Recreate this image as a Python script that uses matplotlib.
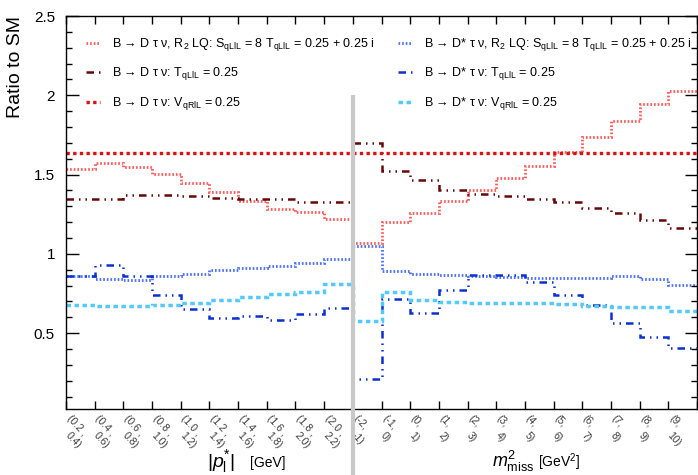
import numpy as np
import matplotlib
matplotlib.use('Agg')
import matplotlib.pyplot as plt

plt.rcParams['font.family'] = ['Liberation Sans', 'DejaVu Sans']
plt.rcParams['mathtext.fontset'] = 'custom'
plt.rcParams['mathtext.rm'] = 'Liberation Sans'
plt.rcParams['mathtext.it'] = 'Liberation Sans:italic'

# bin labels: |p_l*| bins then m2_miss bins
P_LO = ['0.2', '0.4', '0.6', '0.8', '1.0', '1.2', '1.4', '1.6', '1.8', '2.0']
P_HI = ['0.4', '0.6', '0.8', '1.0', '1.2', '1.4', '1.6', '1.8', '2.0', '2.2']
M_LO = ['-2', '-1', '0', '1', '2', '3', '4', '5', '6', '7', '8', '9']
M_HI = ['-1', '0', '1', '2', '3', '4', '5', '6', '7', '8', '9', '10']

# ratios to SM, 10 p bins + 12 m2 bins
D_LQ = [1.536, 1.571, 1.55, 1.504, 1.445, 1.389, 1.336, 1.284, 1.263, 1.221,
        1.07, 1.204, 1.261, 1.334, 1.404, 1.477, 1.552, 1.645, 1.739, 1.838, 1.948, 2.024]
D_T = [1.343, 1.343, 1.374, 1.374, 1.362, 1.353, 1.343, 1.345, 1.326, 1.326,
       1.697, 1.521, 1.467, 1.406, 1.376, 1.364, 1.345, 1.33, 1.292, 1.255, 1.213, 1.165]
D_V = [1.635, 1.635, 1.635, 1.635, 1.635, 1.635, 1.635, 1.635, 1.635, 1.635,
       1.635, 1.635, 1.635, 1.635, 1.635, 1.635, 1.635, 1.635, 1.635, 1.635, 1.635, 1.635]
DST_LQ = [0.858, 0.842, 0.838, 0.858, 0.871, 0.896, 0.913, 0.926, 0.942, 0.97,
          1.047, 0.892, 0.873, 0.869, 0.863, 0.854, 0.851, 0.851, 0.851, 0.858, 0.844, 0.802]
DST_T = [0.858, 0.932, 0.858, 0.739, 0.653, 0.596, 0.607, 0.582, 0.624, 0.659,
         0.211, 0.718, 0.63, 0.77, 0.869, 0.869, 0.823, 0.739, 0.68, 0.567, 0.473, 0.406]
DST_V = [0.68, 0.672, 0.672, 0.68, 0.693, 0.708, 0.726, 0.745, 0.762, 0.812,
         0.575, 0.758, 0.712, 0.699, 0.691, 0.691, 0.691, 0.682, 0.672, 0.666, 0.664, 0.638]

LBL_D_LQ = r'B → D τ ν, R$_2$ LQ: S$_{\mathrm{qLlL}}$ = 8 T$_{\mathrm{qLlL}}$ = 0.25 + 0.25 i'
LBL_D_T = r'B → D τ ν: T$_{\mathrm{qLlL}}$ = 0.25'
LBL_D_V = r'B → D τ ν: V$_{\mathrm{qRlL}}$ = 0.25'
LBL_DST_LQ = r'B → D* τ ν, R$_2$ LQ: S$_{\mathrm{qLlL}}$ = 8 T$_{\mathrm{qLlL}}$ = 0.25 + 0.25 i'
LBL_DST_T = r'B → D* τ ν: T$_{\mathrm{qLlL}}$ = 0.25'
LBL_DST_V = r'B → D* τ ν: V$_{\mathrm{qRlL}}$ = 0.25'

W, H = 698, 475

def main():
    fig = plt.figure(figsize=(W / 100, H / 100), dpi=100, facecolor='w')
    ax = fig.add_axes([66 / W, (H - 409) / H, (697 - 66) / W, (409 - 16) / H])

    nbins = len(P_LO) + len(M_LO)
    edges = np.arange(nbins + 1)
    dashdotdot = (0, (3, 2, 0.6, 2, 0.6, 2))
    dotted = (0, (0.6, 0.7))

    hd1 = ax.stairs(D_LQ, edges, baseline=None, color='#ff5a5a', lw=2.0,
                    linestyle=dotted, label=LBL_D_LQ)
    hd2 = ax.stairs(D_T, edges, baseline=None, color='#660606', lw=1.8,
                    linestyle=dashdotdot, label=LBL_D_T)
    hd3 = ax.stairs(D_V, edges, baseline=None, color='#dd1010', lw=2.4,
                    linestyle=(0, (1, 1)), label=LBL_D_V)
    hs1 = ax.stairs(DST_LQ, edges, baseline=None, color='#4a6eff', lw=2.0,
                    linestyle=dotted, label=LBL_DST_LQ)
    hs2 = ax.stairs(DST_T, edges, baseline=None, color='#0a30d0', lw=1.8,
                    linestyle=dashdotdot, label=LBL_DST_T)
    hs3 = ax.stairs(DST_V, edges, baseline=None, color='#55c8ff', lw=2.5,
                    linestyle=(0, (1.3, 1)), label=LBL_DST_V)

    # separator between the two variables
    ax.plot([len(P_LO), len(P_LO)], [2.0, -0.5], color='#c8c8c8', lw=3,
            clip_on=False, zorder=5, solid_capstyle='butt')

    ax.set_xlim(0, nbins)
    ax.set_ylim(0.022, 2.5)
    ax.set_yticks([0.5, 1.0, 1.5, 2.0, 2.5])
    ax.set_yticklabels(['0.5', '1', '1.5', '2', '2.5'])
    ax.set_yticks(np.arange(0.1, 2.5, 0.1), minor=True)
    ax.set_xticks(edges)
    ax.set_xticklabels([])
    ax.tick_params(axis='y', which='major', direction='in', length=9, width=1,
                   right=True, labelsize=11, pad=8)
    ax.tick_params(axis='y', which='minor', direction='in', length=4.5, width=1, right=True)
    ax.tick_params(axis='x', which='major', direction='in', length=6, width=1, top=True)
    for sp in ax.spines.values():
        sp.set_linewidth(1)
    ax.set_ylabel('Ratio to SM', fontsize=14, loc='top', labelpad=7)

    # two-line rotated bin labels
    lows = P_LO + M_LO
    highs = P_HI + M_HI
    for i in range(nbins):
        sep = ' ,' if i < len(P_LO) else ','
        ax.annotate('(' + lows[i] + sep, xy=(i + 0.5, 0), xycoords=('data', 'axes fraction'),
                    xytext=(-6.0, -3.0), textcoords='offset points', ha='left', va='top',
                    rotation=-48, rotation_mode='anchor', fontsize=7.5, color='#3a3a3a')
        ax.annotate(highs[i] + ')', xy=(i + 0.5, 0), xycoords=('data', 'axes fraction'),
                    xytext=(-7.0, -15.5), textcoords='offset points', ha='left', va='top',
                    rotation=-48, rotation_mode='anchor', fontsize=7.5, color='#3a3a3a')

    fig.text(207 / W, 1 - 467 / H, r'$|p^{*}_{\mathrm{l}}|$', fontsize=14, va='baseline')
    fig.text(250 / W, 1 - 467 / H, '[GeV]', fontsize=10, va='baseline')
    fig.text(492 / W, 1 - 467 / H, r'$m^{2}_{\mathrm{miss}}$', fontsize=13, va='baseline')
    fig.text(538 / W, 1 - 467 / H, r'[GeV$^{2}$]', fontsize=10, va='baseline')

    fig.legend(handles=[hd1, hd2, hd3], loc='upper left', frameon=False,
               bbox_to_anchor=(86 / W, 1 - 36 / H), fontsize=9, handlelength=1.1,
               handletextpad=1.0, labelspacing=1.0, borderpad=0, borderaxespad=0)
    fig.legend(handles=[hs1, hs2, hs3], loc='upper left', frameon=False,
               bbox_to_anchor=(398 / W, 1 - 36 / H), fontsize=9, handlelength=1.1,
               handletextpad=1.0, labelspacing=1.0, borderpad=0, borderaxespad=0)

    fig.savefig('out.png', dpi=100)


if __name__ == '__main__':
    main()
